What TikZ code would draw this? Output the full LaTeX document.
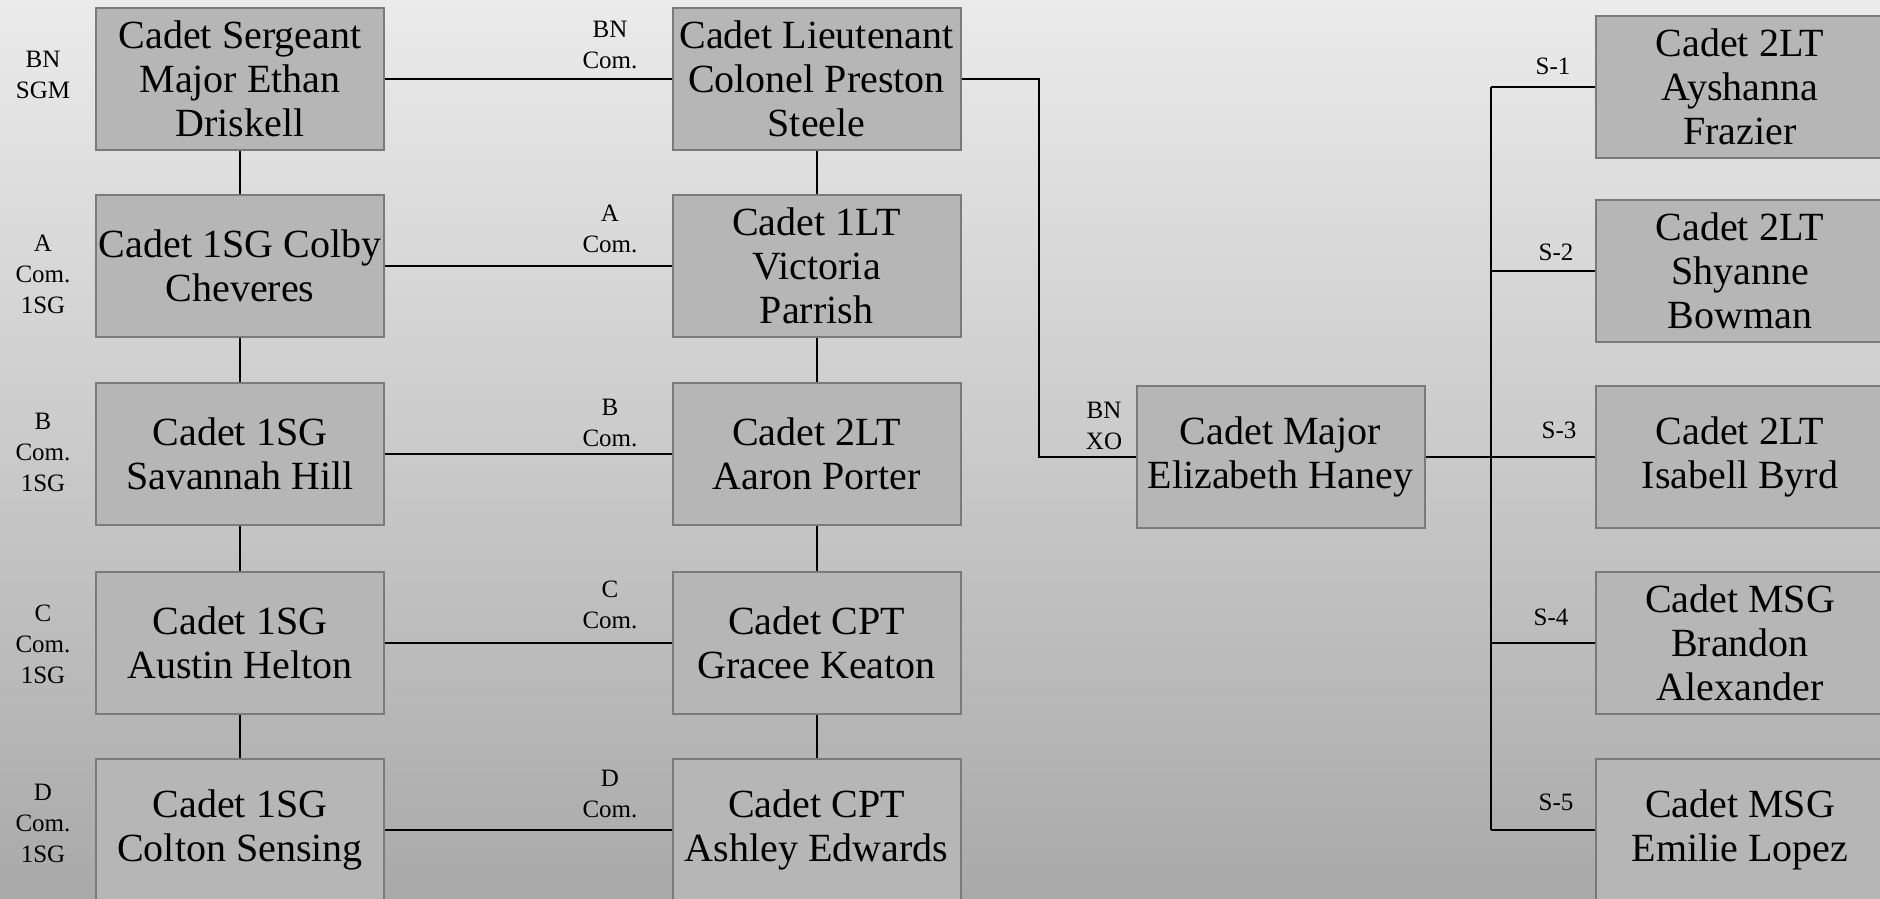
\documentclass[tikz,border=0pt]{standalone}
\usepackage{fontspec}
\setmainfont{Liberation Serif}
\definecolor{boxfill}{HTML}{B6B6B6}
\definecolor{boxline}{HTML}{7A7A7A}
\definecolor{bgtop}{HTML}{EBEBEB}
\definecolor{bgbot}{HTML}{A9A9A9}
\tikzset{
  card/.style={draw=boxline, line width=2pt, fill=boxfill, inner sep=0pt,
    minimum width=288pt, minimum height=142pt, align=center,
    font=\fontsize{40}{44}\selectfont},
  tag/.style={inner sep=0pt, align=center, font=\fontsize{25}{31}\selectfont},
  conn/.style={draw=black, line width=2pt}
}
\begin{document}
\begin{tikzpicture}[x=1pt,y=-1pt]
\useasboundingbox (0,0) rectangle (1880,899);
\clip (0,0) rectangle (1880,899);
\shade[top color=bgtop, bottom color=bgbot] (0,0) rectangle (1880,899);

% left column
\node[card] (sgm) at (240,79) {Cadet Sergeant\\Major Ethan\\Driskell};
\node[card] (a1) at (240,266) {Cadet 1SG Colby\\Cheveres};
\node[card] (b1) at (240,454) {Cadet 1SG\\Savannah Hill};
\node[card] (c1) at (240,643) {Cadet 1SG\\Austin Helton};
\node[card] (d1) at (240,830) {Cadet 1SG\\Colton Sensing};

% middle column
\node[card] (ltc) at (816.5,79) {Cadet Lieutenant\\Colonel Preston\\Steele};
\node[card] (a2) at (816.5,266) {Cadet 1LT\\Victoria\\Parrish};
\node[card] (b2) at (816.5,454) {Cadet 2LT\\Aaron Porter};
\node[card] (c2) at (816.5,643) {Cadet CPT\\Gracee Keaton};
\node[card] (d2) at (816.5,830) {Cadet CPT\\Ashley Edwards};

% XO
\node[card] (xo) at (1280.5,457) {Cadet Major\\Elizabeth Haney};

% staff
\node[card] (s1) at (1740,87) {Cadet 2LT\\Ayshanna\\Frazier};
\node[card] (s2) at (1740,271) {Cadet 2LT\\Shyanne\\Bowman};
\node[card] (s3) at (1740,457) {Cadet 2LT\\Isabell Byrd};
\node[card] (s4) at (1740,643) {Cadet MSG\\Brandon\\Alexander};
\node[card] (s5) at (1740,830) {Cadet MSG\\Emilie Lopez};

% left tags
\node[tag] (t0) at (43,75) {BN\\SGM};
\node[tag] (t1) at (43,274) {A\\Com.\\1SG};
\node[tag] (t2) at (43,452) {B\\Com.\\1SG};
\node[tag] (t3) at (43,644) {C\\Com.\\1SG};
\node[tag] (t4) at (43,823) {D\\Com.\\1SG};

% middle tags
\node[tag] (m0) at (610,45) {BN\\Com.};
\node[tag] (m1) at (610,229) {A\\Com.};
\node[tag] (m2) at (610,423) {B\\Com.};
\node[tag] (m3) at (610,605) {C\\Com.};
\node[tag] (m4) at (610,794) {D\\Com.};

\node[tag] (xt) at (1104,426) {BN\\XO};

% staff tags
\node[tag] (st1) at (1553,66) {S-1};
\node[tag] (st2) at (1556,252) {S-2};
\node[tag] (st3) at (1559,430) {S-3};
\node[tag] (st4) at (1551,617) {S-4};
\node[tag] (st5) at (1556,802) {S-5};

% connectors rows
\draw[conn] (sgm.east) -- (ltc.west);
\draw[conn] (a1.east) -- (a2.west);
\draw[conn] (b1.east) -- (b2.west);
\draw[conn] (c1.east) -- (c2.west);
\draw[conn] (d1.east) -- (d2.west);

% vertical connectors
\draw[conn] (sgm.south) -- (a1.north);
\draw[conn] (a1.south) -- (b1.north);
\draw[conn] (b1.south) -- (c1.north);
\draw[conn] (c1.south) -- (d1.north);
\draw[conn] (ltc.south) -- (a2.north);
\draw[conn] (a2.south) -- (b2.north);
\draw[conn] (b2.south) -- (c2.north);
\draw[conn] (c2.south) -- (d2.north);

% LTC to XO
\coordinate (j1) at (1039,79);
\coordinate (j2) at (1039,457);
\draw[conn] (ltc.east) -- (j1) -- (j2) -- (xo.west);

% staff bus
\coordinate (bt) at (1491,87);
\coordinate (bb) at (1491,830);
\draw[conn] (bt) -- (bb);
\draw[conn] (bt) -- (s1.west);
\draw[conn] (s2.west -| bt) -- (s2.west);
\draw[conn] (xo.east) -- (s3.west);
\draw[conn] (s4.west -| bt) -- (s4.west);
\draw[conn] (bb) -- (s5.west);
\end{tikzpicture}
\end{document}
